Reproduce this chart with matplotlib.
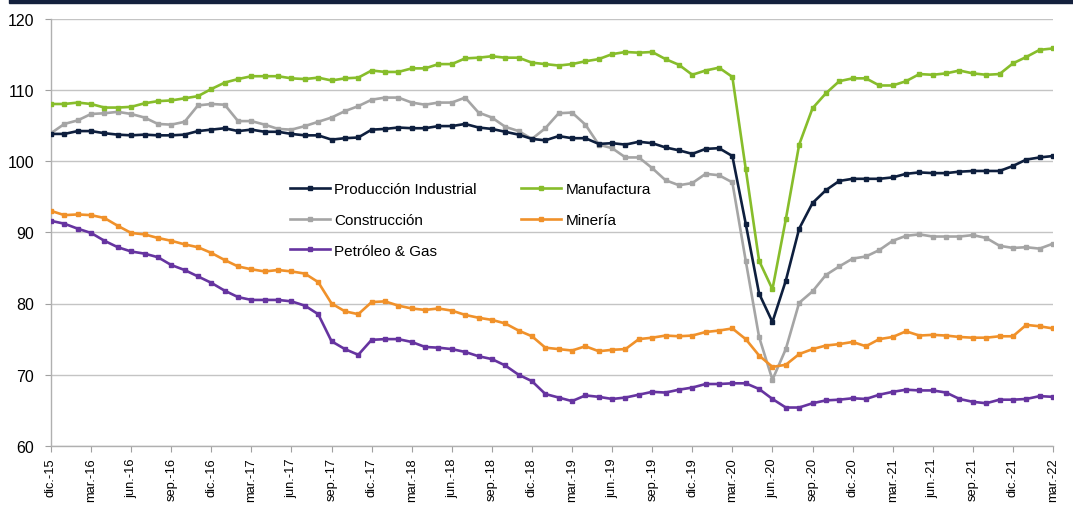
import matplotlib
matplotlib.use("Agg")
import matplotlib.pyplot as plt
from matplotlib.patches import Rectangle
import numpy as np

plt.rcParams['font.family'] = ['Liberation Sans', 'DejaVu Sans']

# monthly index, dic-15 .. mar-22 (76 months)
tick_labels = ["dic.-15", "mar.-16", "jun.-16", "sep.-16", "dic.-16", "mar.-17", "jun.-17",
               "sep.-17", "dic.-17", "mar.-18", "jun.-18", "sep.-18", "dic.-18", "mar.-19",
               "jun.-19", "sep.-19", "dic.-19", "mar.-20", "jun.-20", "sep.-20", "dic.-20",
               "mar.-21", "jun.-21", "sep.-21", "dic.-21", "mar.-22"]

prod_industrial = [103.8, 103.8, 104.2, 104.2, 103.9, 103.7, 103.6, 103.7, 103.6, 103.6,
                   103.7, 104.2, 104.4, 104.6, 104.2, 104.4, 104.1, 104.1, 103.8, 103.6,
                   103.6, 103.0, 103.2, 103.3, 104.4, 104.5, 104.7, 104.6, 104.6, 104.9,
                   104.9, 105.2, 104.7, 104.5, 104.1, 103.7, 103.1, 102.9, 103.5, 103.2,
                   103.2, 102.4, 102.5, 102.3, 102.7, 102.5, 101.9, 101.5, 101.0, 101.7,
                   101.8, 100.7, 91.2, 81.4, 77.4, 83.2, 90.5, 94.1, 95.9, 97.2,
                   97.5, 97.5, 97.5, 97.7, 98.2, 98.4, 98.3, 98.3, 98.5, 98.6,
                   98.6, 98.6, 99.3, 100.2, 100.5, 100.7]

manufactura = [108.0, 108.0, 108.2, 108.0, 107.5, 107.5, 107.6, 108.1, 108.4, 108.5,
               108.8, 109.1, 110.1, 111.0, 111.5, 111.9, 111.9, 111.9, 111.6, 111.5,
               111.7, 111.3, 111.6, 111.7, 112.7, 112.5, 112.5, 113.0, 113.0, 113.6,
               113.6, 114.4, 114.5, 114.7, 114.5, 114.5, 113.8, 113.6, 113.4, 113.6,
               114.0, 114.3, 115.0, 115.3, 115.2, 115.3, 114.3, 113.5, 112.1, 112.7,
               113.1, 111.8, 98.9, 86.0, 82.0, 91.8, 102.3, 107.4, 109.5, 111.2,
               111.6, 111.6, 110.6, 110.6, 111.2, 112.2, 112.1, 112.3, 112.7, 112.3,
               112.1, 112.2, 113.7, 114.6, 115.6, 115.8]

construccion = [103.9, 105.2, 105.7, 106.6, 106.7, 106.9, 106.6, 106.1, 105.2, 105.1,
                105.5, 107.8, 108.0, 107.9, 105.6, 105.6, 105.1, 104.5, 104.4, 104.9,
                105.5, 106.1, 107.0, 107.7, 108.6, 108.9, 108.9, 108.2, 107.9, 108.2,
                108.2, 108.9, 106.8, 106.1, 104.8, 104.2, 103.1, 104.6, 106.7, 106.8,
                105.1, 102.3, 101.8, 100.5, 100.5, 99.0, 97.3, 96.6, 96.9, 98.2,
                98.0, 97.0, 86.0, 75.3, 69.3, 73.6, 80.1, 81.7, 84.0, 85.2,
                86.3, 86.6, 87.5, 88.8, 89.5, 89.7, 89.4, 89.4, 89.4, 89.6,
                89.2, 88.1, 87.8, 87.9, 87.7, 88.4]

mineria = [93.0, 92.4, 92.5, 92.4, 92.0, 90.9, 89.9, 89.7, 89.2, 88.8,
           88.3, 87.9, 87.1, 86.1, 85.2, 84.8, 84.5, 84.7, 84.5, 84.2,
           83.0, 80.0, 78.9, 78.5, 80.2, 80.3, 79.7, 79.3, 79.1, 79.3,
           79.0, 78.4, 78.0, 77.7, 77.2, 76.2, 75.4, 73.8, 73.6, 73.4,
           74.0, 73.3, 73.5, 73.6, 75.0, 75.2, 75.5, 75.4, 75.5, 76.0,
           76.2, 76.5, 75.0, 72.7, 71.1, 71.4, 72.9, 73.6, 74.1, 74.3,
           74.6, 74.0, 75.0, 75.3, 76.1, 75.5, 75.6, 75.5, 75.3, 75.2,
           75.2, 75.4, 75.4, 77.0, 76.8, 76.5]

petroleo_gas = [91.6, 91.2, 90.5, 89.9, 88.8, 87.9, 87.3, 87.0, 86.5, 85.4,
                84.7, 83.8, 82.9, 81.8, 80.9, 80.5, 80.5, 80.5, 80.3, 79.7,
                78.5, 74.7, 73.6, 72.8, 74.9, 75.0, 75.0, 74.6, 73.9, 73.8,
                73.6, 73.2, 72.6, 72.2, 71.3, 70.0, 69.1, 67.3, 66.8, 66.3,
                67.1, 66.9, 66.6, 66.8, 67.2, 67.6, 67.5, 67.9, 68.2, 68.7,
                68.7, 68.8, 68.8, 68.0, 66.6, 65.4, 65.4, 66.0, 66.4, 66.5,
                66.7, 66.6, 67.2, 67.6, 67.9, 67.8, 67.8, 67.5, 66.6, 66.2,
                66.0, 66.5, 66.5, 66.6, 67.0, 66.9]

x = np.arange(len(prod_industrial))

fig = plt.figure(figsize=(10.73, 5.06), dpi=100)
ax = fig.add_axes([51 / 1073, 1 - 447 / 506, 1002 / 1073, 427.5 / 506])

# dark band across the top
fig.patches.append(Rectangle((9 / 1073, 1 - 4 / 506), 1, 4 / 506, transform=fig.transFigure,
                             color="#14213d", zorder=5))

style = dict(marker="s", markersize=3.2, linewidth=1.9)
l_pi, = ax.plot(x, prod_industrial, color="#0e1f3e", label="Producción Industrial", zorder=5, **style)
l_man, = ax.plot(x, manufactura, color="#87bd2b", label="Manufactura", zorder=4, **style)
l_con, = ax.plot(x, construccion, color="#a5a5a5", label="Construcción", zorder=3, **style)
l_min, = ax.plot(x, mineria, color="#f0912a", label="Minería", zorder=4, **style)
l_pg, = ax.plot(x, petroleo_gas, color="#6634a0", label="Petróleo & Gas", zorder=4, **style)

ax.set_xlim(0, len(x) - 1)
ax.set_ylim(60, 120)
ax.set_yticks(np.arange(60, 121, 10))
ax.set_xticks(np.arange(0, len(x), 3))
ax.set_xticklabels(tick_labels, rotation=90, fontsize=9.3)
ax.tick_params(axis="y", labelsize=11.5, length=4, color="#a0a0a0", pad=8)
ax.tick_params(axis="x", length=4, color="#a0a0a0", pad=4)

ax.grid(axis="y", color="#c4c4c4", linewidth=1)
ax.set_axisbelow(True)
for s in ["top", "right"]:
    ax.spines[s].set_visible(False)
for s in ["left", "bottom"]:
    ax.spines[s].set_color("#b0b0b0")
    ax.spines[s].set_linewidth(1)

handles = [l_pi, l_con, l_pg, l_man, l_min]
ax.legend(handles=handles, labels=[h.get_label() for h in handles], ncol=2,
          loc="center left", bbox_to_anchor=(0.2385, 0.5287), frameon=False,
          borderpad=0, borderaxespad=0, fontsize=11, handlelength=2.6,
          handletextpad=0.3, columnspacing=2.9, labelspacing=1.1)

fig.savefig("out.png", dpi=100)
